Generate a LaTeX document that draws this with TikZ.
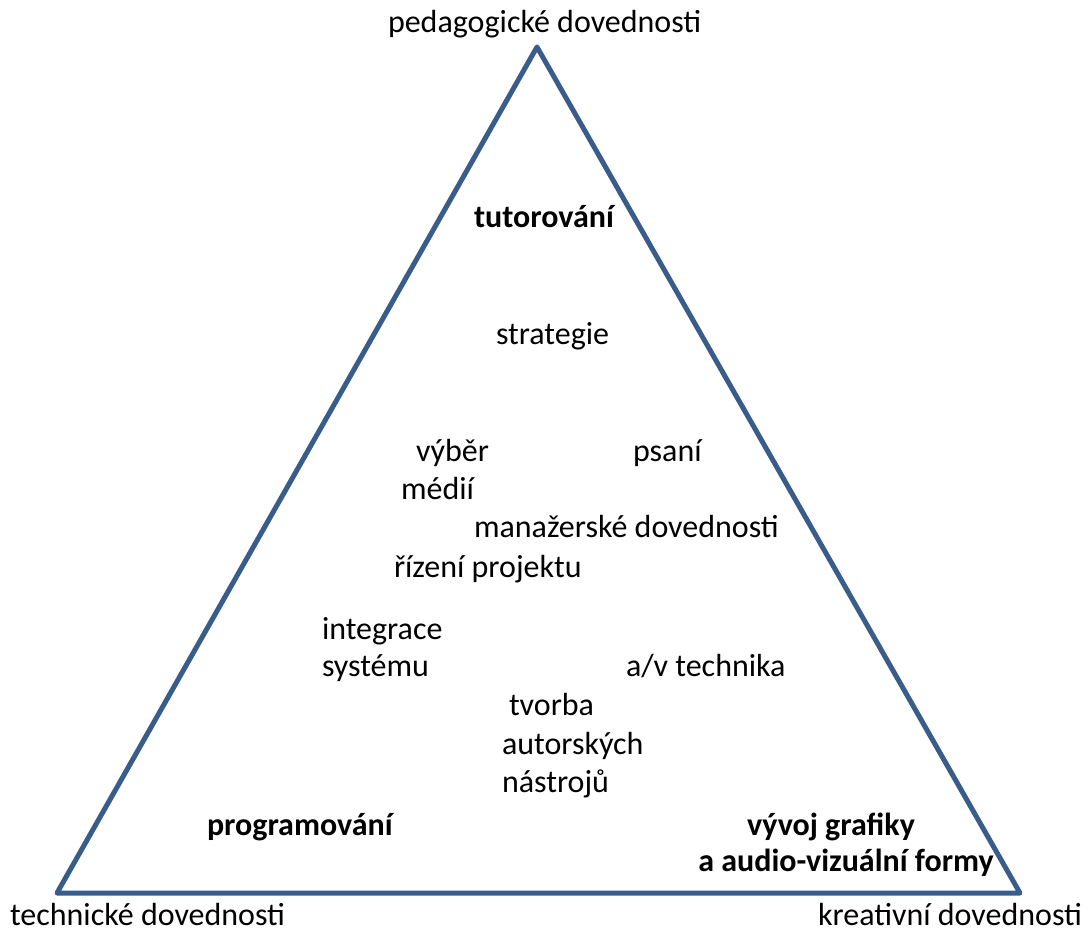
\documentclass[tikz,border=0pt]{standalone}
\usepackage{fontspec}
\setmainfont{Carlito}
\definecolor{triblue}{RGB}{56,93,138}
\begin{document}
\begin{tikzpicture}[x=1pt,y=-1pt,
  lbl/.style={inner sep=0pt,outer sep=0pt,anchor=base west,font=\fontsize{32}{38}\selectfont},
  mc/.style={inner sep=0pt,outer sep=0pt,anchor=base,align=center,font=\fontsize{32}{37}\selectfont\bfseries}]
\useasboundingbox (0,0) rectangle (1088,931);
\coordinate (apex) at (537,47);
\coordinate (bl) at (57,893);
\coordinate (br) at (1020,893);
\draw[triblue,line width=5pt,line join=round] (apex) -- (br) -- (bl) -- cycle;
\node[lbl] (ped) at (388,33) {pedagogické dovednosti};
\node[lbl] (tech) at (10,925) {technické dovednosti};
\node[lbl] (krea) at (818,925) {kreativní dovednosti};
\node[lbl,font=\fontsize{32}{38}\selectfont\bfseries] (tut) at (474,227) {tutorování};
\node[lbl] (str) at (496,344) {strategie};
\node[lbl] (vyb) at (416,461) {výběr};
\node[lbl] (psa) at (633,461) {psaní};
\node[lbl] (med) at (401,499) {médií};
\node[lbl] (man) at (474,537) {manažerské dovednosti};
\node[lbl] (riz) at (394,577) {řízení projektu};
\node[lbl] (int) at (322,639) {integrace};
\node[lbl] (sys) at (322,676) {systému};
\node[lbl] (av) at (626,676) {a/v technika};
\node[lbl] (tvo) at (509,715) {tvorba};
\node[lbl] (aut) at (502,754) {autorských};
\node[lbl] (nas) at (502,792) {nástrojů};
\node[lbl,font=\fontsize{32}{38}\selectfont\bfseries] (prog) at (207,835) {programování};
\node[mc] (vyv) at (831,835) {vývoj grafiky};
\node[mc] (aud) at (846,871) {a audio-vizuální formy};
\end{tikzpicture}
\end{document}
